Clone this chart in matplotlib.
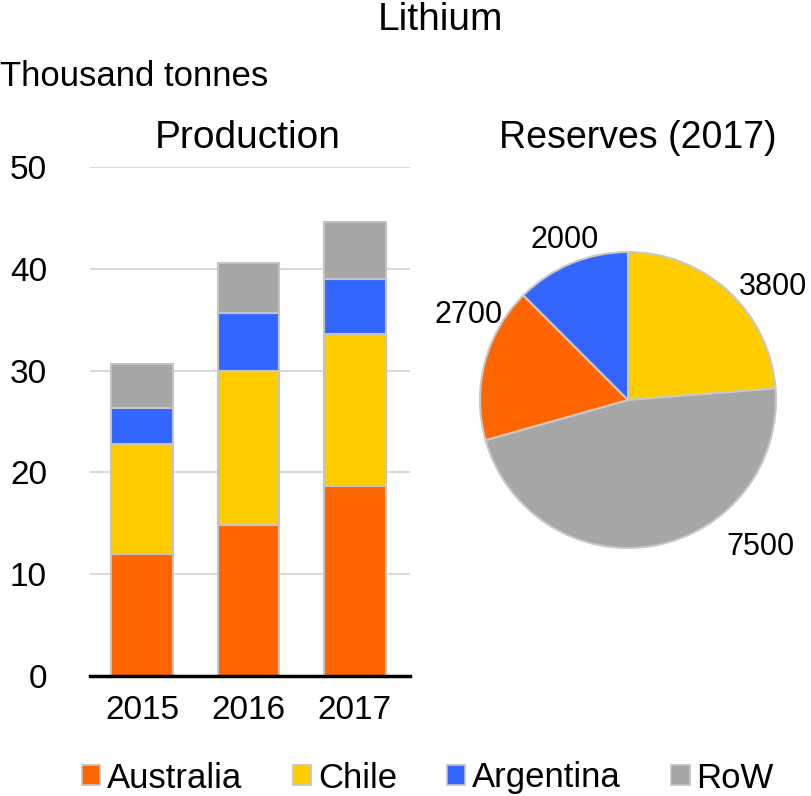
import matplotlib
matplotlib.use("Agg")
import matplotlib.pyplot as plt
from matplotlib.patches import Patch
import numpy as np

# Production (thousand tonnes), stacked by country
years = ["2015", "2016", "2017"]
australia = [12.0, 14.8, 18.7]
chile = [10.8, 15.2, 14.9]
argentina = [3.5, 5.7, 5.4]
row = [4.3, 4.9, 5.6]

# Reserves in 2017 (thousand tonnes), clockwise from top
reserve_names = ["Chile", "RoW", "Australia", "Argentina"]
reserve_values = [3800, 7500, 2700, 2000]

series_names = ["Australia", "Chile", "Argentina", "RoW"]
colors = {"Australia": "#FF6600", "Chile": "#FFCC00",
          "Argentina": "#3366FF", "RoW": "#A6A6A6"}
y_ticks = [0, 10, 20, 30, 40, 50]

plt.rcParams["font.family"] = ["Liberation Sans", "DejaVu Sans"]

W, H = 812, 796
fig = plt.figure(figsize=(W / 100, H / 100), dpi=100)


def px_axes(left, top, right, bottom):
    return fig.add_axes([left / W, 1 - bottom / H, (right - left) / W, (bottom - top) / H])


# --- stacked bars ---
ax = px_axes(90, 167, 410, 676)
x = np.arange(len(years))
bottom = np.zeros(len(years))
for name, vals in zip(series_names, [australia, chile, argentina, row]):
    ax.bar(x, vals, bottom=bottom, width=0.58, color=colors[name],
           edgecolor="#c4c4c4", linewidth=1.5, zorder=3)
    bottom += np.array(vals)

ax.set_xlim(-0.49, 2.52)
ax.set_ylim(0, 50)
ax.set_yticks(y_ticks)
ax.set_xticks(x)
ax.set_xticklabels(years)
ax.tick_params(axis="both", length=0, labelsize=24)
ax.tick_params(axis="y", pad=31)
ax.tick_params(axis="x", pad=14)
ax.grid(axis="y", color="#d9d9d9", linewidth=1.5, zorder=0)
for s in ["top", "right", "left"]:
    ax.spines[s].set_visible(False)
ax.spines["bottom"].set_linewidth(2.5)
ax.spines["bottom"].set_zorder(4)

# --- pie ---
r = 148
cx, cy = 628, 400
pax = px_axes(cx - r, cy - r, cx + r, cy + r)
wedges, _ = pax.pie(reserve_values, colors=[colors[n] for n in reserve_names],
                    startangle=90, counterclock=False, radius=1,
                    wedgeprops=dict(edgecolor="#c8c8c8", linewidth=1.5))
pax.set_xlim(-1, 1)
pax.set_ylim(-1, 1)
pax.set_aspect("equal")
pax.axis("off")

label_pos = {"Chile": (773, 287), "RoW": (760, 547),
             "Australia": (469, 315), "Argentina": (565, 240)}
for name, val in zip(reserve_names, reserve_values):
    lx, ly = label_pos[name]
    fig.text(lx / W, 1 - ly / H, f"{val}", ha="center", va="center", fontsize=22)

# --- titles ---
fig.text(441 / W, 1 - 20 / H, "Lithium", ha="center", va="center", fontsize=28)
fig.text(0, 1 - 77 / H, "Thousand tonnes", ha="left", va="center", fontsize=25)
fig.text(248 / W, 1 - 138 / H, "Production", ha="center", va="center", fontsize=28)
fig.text(638 / W, 1 - 138 / H, "Reserves (2017)", ha="center", va="center", fontsize=27)

# --- legend ---
handles = [Patch(facecolor=colors[n], edgecolor="#c4c4c4", linewidth=1.2) for n in series_names]
fig.legend(handles, series_names, loc="center", bbox_to_anchor=(428 / W, 1 - 778 / H),
           ncol=4, frameon=False, fontsize=25, handlelength=0.52, handleheight=0.52,
           handletextpad=0.2, columnspacing=1.45, borderpad=0, borderaxespad=0)

fig.savefig("out.png", dpi=100)
